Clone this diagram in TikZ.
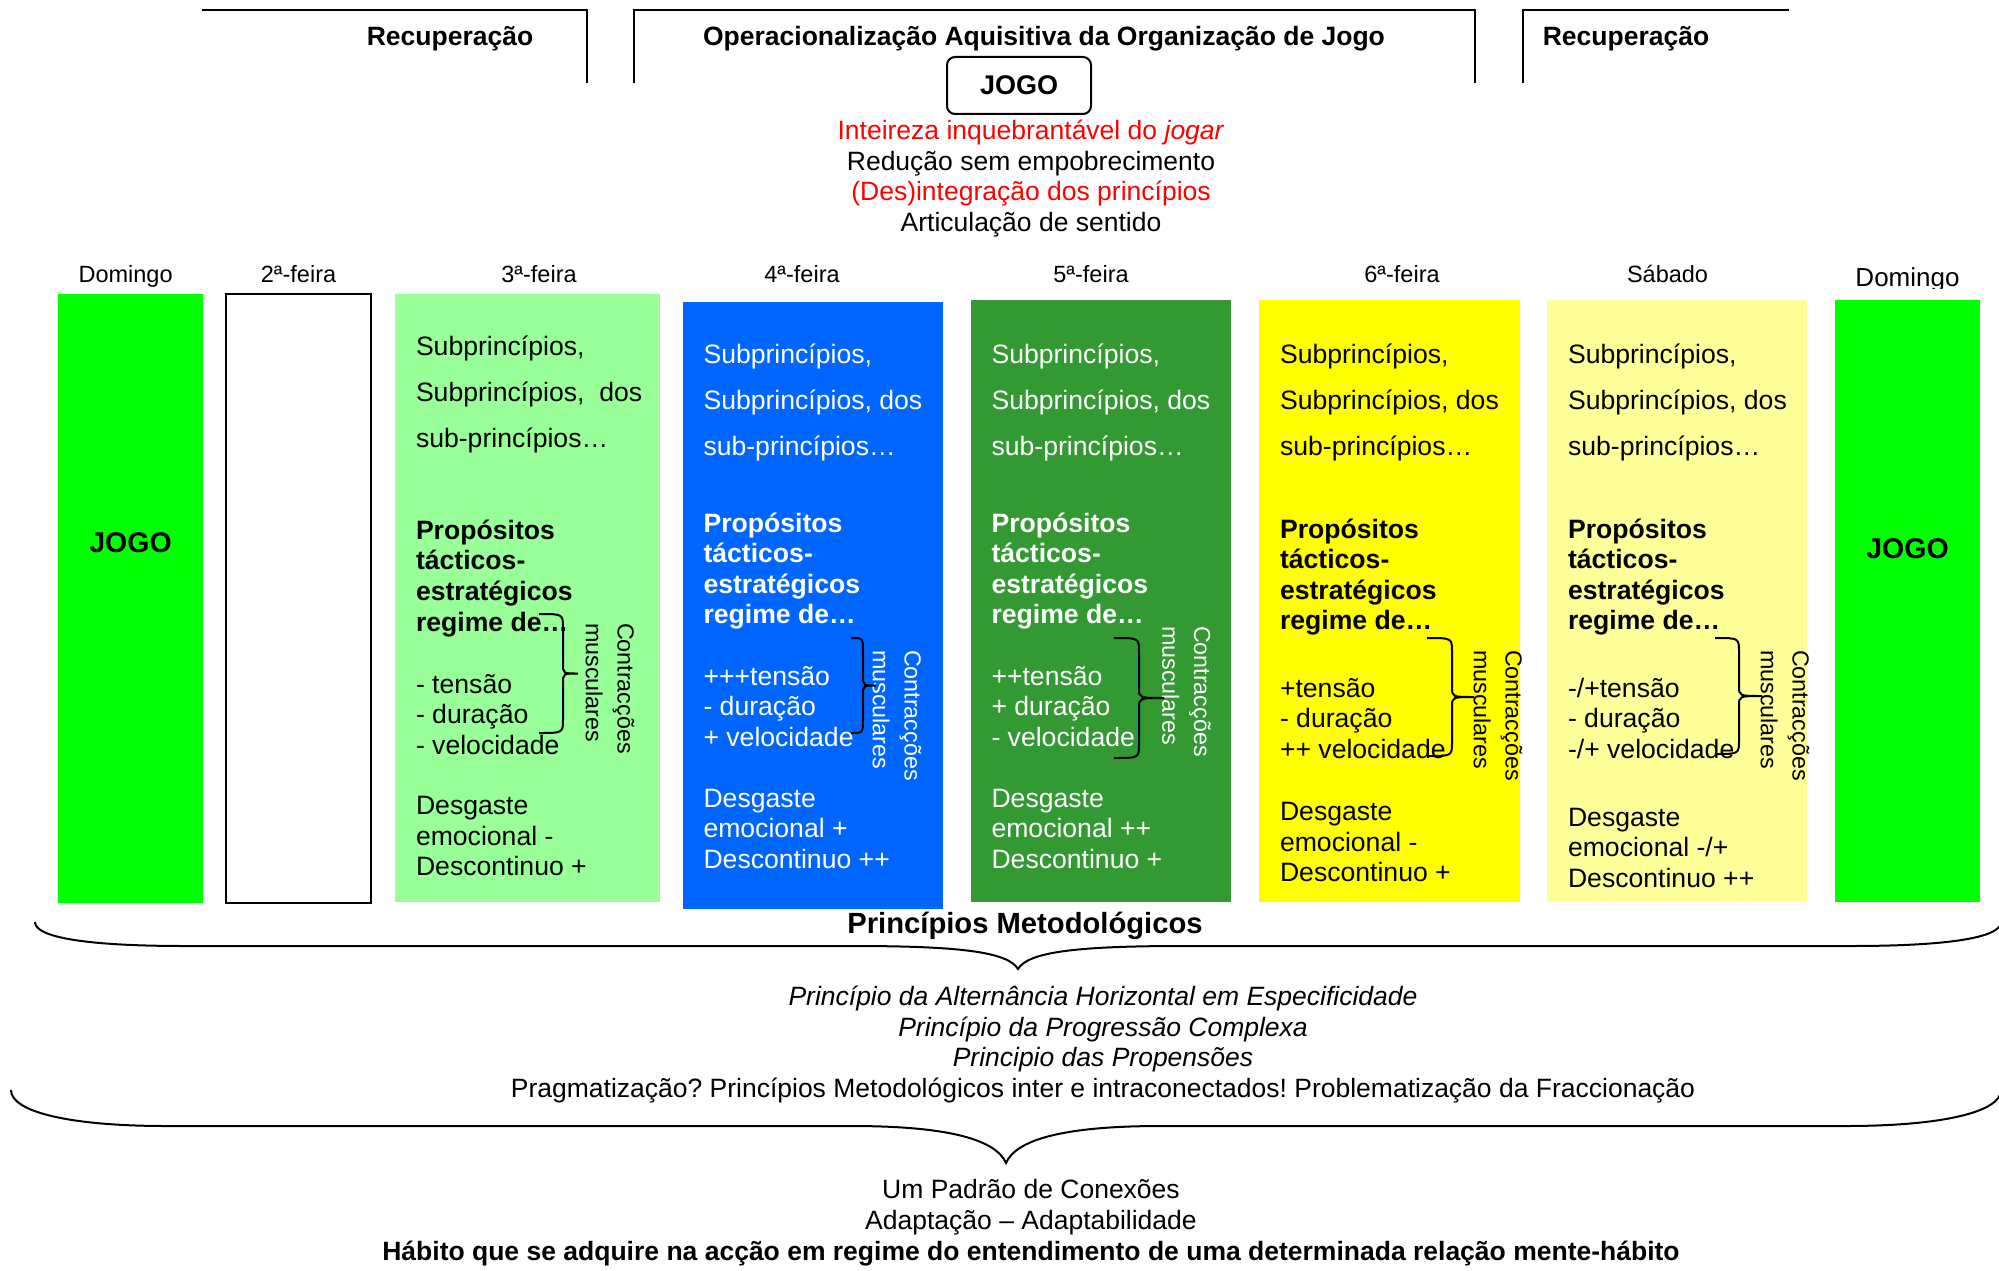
\documentclass[tikz,border=0pt]{standalone}
\usepackage{fontspec}
\setmainfont{Liberation Sans}
\frenchspacing

\definecolor{jogo}{HTML}{00FF00}
\definecolor{terca}{HTML}{99FF99}
\definecolor{quarta}{HTML}{0066FF}
\definecolor{quinta}{HTML}{339933}
\definecolor{sexta}{HTML}{FFFF00}
\definecolor{sabado}{HTML}{FFFF99}

% nos de varias linhas: base = ultima linha
\tikzset{
  head/.style={anchor=base,inner sep=0pt,font=\bfseries\fontsize{26.5}{30}\selectfont},
  day/.style={anchor=base,inner sep=0pt,font=\fontsize{23.5}{28}\selectfont},
  sub/.style={anchor=base west,align=left,inner sep=0pt,font=\fontsize{26.6}{46}\selectfont},
  prop/.style={anchor=base west,align=left,inner sep=0pt,font=\bfseries\fontsize{26.6}{30.6}\selectfont},
  cell/.style={anchor=base west,align=left,inner sep=0pt,font=\fontsize{26.6}{30.5}\selectfont},
  musc/.style={anchor=west,rotate=-90,align=left,inner sep=0pt,font=\fontsize{23.3}{31.7}\selectfont},
  lines/.style={anchor=base,align=center,inner sep=0pt,font=\fontsize{26.5}{30.6}\selectfont}
}

% chave vertical: ponta x, espinha x, bico x, topo y, fundo y
\newcommand{\chave}[5]{%
  \pgfmathsetmacro\ym{(#4+#5)/2}
  \draw (#1,#4) .. controls (#2,#4) .. (#2,#4+14) -- (#2,\ym-10)
    .. controls (#2,\ym) .. (#3,\ym) .. controls (#2,\ym) .. (#2,\ym+10)
    -- (#2,#5-14) .. controls (#2,#5) .. (#1,#5);
}

\begin{document}
\begin{tikzpicture}[x=1pt,y=-1pt,line width=2pt]
  \useasboundingbox (0,0) rectangle (1999,1271);

  % cabecalhos de cima
  \draw (202,10) -- (587,10) -- (587,83);
  \draw (634,83) -- (634,10) -- (1475,10) -- (1475,83);
  \draw (1523,83) -- (1523,10) -- (1789,10);
  \node[head] (rec1) at (450,46) {Recuperação};
  \node[head] (oper) at (1044,46) {Operacionalização Aquisitiva da Organização de Jogo};
  \node[head] (rec2) at (1626,46) {Recuperação};
  \node[draw,rounded corners=8pt,minimum width=144pt,minimum height=57pt,
        font=\bfseries\fontsize{27}{30}\selectfont] (jogo) at (1019,85.5) {JOGO};
  \node[lines] (ideias) at (1031,231.5) {\textcolor{red}{Inteireza inquebrantável do \textit{jogar}}\\
    Redução sem empobrecimento\\
    \textcolor{red}{(Des)integração dos princípios}\\
    Articulação de sentido};

  % dias da semana
  \node[day] (dom1) at (125.6,282) {Domingo};
  \node[day] (seg) at (298.5,282) {2ª-feira};
  \node[day] (ter) at (539,282) {3ª-feira};
  \node[day] (qua) at (802,282) {4ª-feira};
  \node[day] (qui) at (1091,282) {5ª-feira};
  \node[day] (sex) at (1402,282) {6ª-feira};
  \node[day] (sab) at (1667.5,282) {Sábado};
  \begin{scope}
    \clip (1830,250) rectangle (1985,288);
    \node[day,font=\fontsize{26}{30}\selectfont] (dom2) at (1907.5,286) {Domingo};
  \end{scope}

  % colunas
  \fill[jogo] (58,294) rectangle (203,903);
  \draw (226,294) rectangle (371,903);
  \fill[terca] (395,294) rectangle (660,902);
  \fill[quarta] (683,302) rectangle (943,909);
  \fill[quinta] (971,300) rectangle (1231,902);
  \fill[sexta] (1259,300) rectangle (1520,902);
  \fill[sabado] (1547,300) rectangle (1807,902);
  \fill[jogo] (1835,300) rectangle (1980,902);

  \node[head,anchor=center,font=\bfseries\fontsize{28.5}{30}\selectfont] (jogo1) at (130.5,543) {JOGO};
  \node[head,anchor=center,font=\bfseries\fontsize{28.5}{30}\selectfont] (jogo2) at (1907.5,549) {JOGO};

  % 3a-feira
  \node[sub] (t3sub) at (415,447) {Subprincípios,\\Subprincípios,\ \ dos\\sub-princípios…};
  \node[prop] (t3prop) at (415,631) {Propósitos\\tácticos-\\estratégicos\\regime de…};
  \node[cell] (t3reg) at (415,754) {- tensão\\- duração\\- velocidade};
  \node[cell] (t3desg) at (415,875.5) {Desgaste\\emocional -\\Descontinuo +};
  \chave{539}{563}{578}{614}{733}
  \node[musc] (t3musc) at (610,622) {Contracções\\musculares};

  % 4a-feira
  \begin{scope}[white]
    \node[sub] (t4sub) at (702.5,455.5) {Subprincípios,\\Subprincípios, dos\\sub-princípios…};
    \node[prop] (t4prop) at (702.5,623.8) {Propósitos\\tácticos-\\estratégicos\\regime de…};
    \node[cell] (t4reg) at (702.5,746) {+++tensão\\- duração\\+ velocidade};
    \node[cell] (t4desg) at (702.5,868) {Desgaste\\emocional +\\Descontinuo ++};
    \node[musc] (t4musc) at (897,649) {Contracções\\musculares};
  \end{scope}
  \chave{851}{863}{876}{638}{733}

  % 5a-feira
  \begin{scope}[white]
    \node[sub] (t5sub) at (990.5,455.5) {Subprincípios,\\Subprincípios, dos\\sub-princípios…};
    \node[prop] (t5prop) at (990.5,623.8) {Propósitos\\tácticos-\\estratégicos\\regime de…};
    \node[cell] (t5reg) at (990.5,746) {++tensão\\+ duração\\- velocidade};
    \node[cell] (t5desg) at (990.5,868) {Desgaste\\emocional ++\\Descontinuo +};
    \node[musc] (t5musc) at (1186.5,625) {Contracções\\musculares};
  \end{scope}
  \chave{1114}{1139}{1164}{638}{758}

  % 6a-feira
  \node[sub] (t6sub) at (1279,455.5) {Subprincípios,\\Subprincípios, dos\\sub-princípios…};
  \node[prop] (t6prop) at (1279,629.8) {Propósitos\\tácticos-\\estratégicos\\regime de…};
  \node[cell] (t6reg) at (1279,758) {+tensão\\- duração\\++ velocidade};
  \node[cell] (t6desg) at (1279,881.6) {Desgaste\\emocional -\\Descontinuo +};
  \chave{1427}{1452}{1474}{638}{756}
  \node[musc] (t6musc) at (1498,649) {Contracções\\musculares};

  % sabado
  \node[sub] (t7sub) at (1567,455.5) {Subprincípios,\\Subprincípios, dos\\sub-princípios…};
  \node[prop] (t7prop) at (1567,629.8) {Propósitos\\tácticos-\\estratégicos\\regime de…};
  \node[cell] (t7reg) at (1567,758) {-/+tensão\\- duração\\-/+ velocidade};
  \node[cell] (t7desg) at (1567,887) {Desgaste\\emocional -/+\\Descontinuo ++};
  \chave{1715}{1739}{1762}{638}{754}
  \node[musc] (t7musc) at (1785,649) {Contracções\\musculares};

  % principios metodologicos
  \node[head,font=\bfseries\fontsize{29.2}{32}\selectfont] (metod) at (1025,933) {Princípios Metodológicos};
  \draw (35,922) .. controls (35,938) and (90,946) .. (185,946) -- (853,946)
    .. controls (960,946) and (1008,952) .. (1018,969)
    .. controls (1028,952) and (1076,946) .. (1183,946) -- (1851,946)
    .. controls (1946,946) and (2001,938) .. (2001,922);
  \node[lines] (princ) at (1103,1097.5) {\textit{Princípio da Alternância Horizontal em Especificidade}\\
    \textit{Princípio da Progressão Complexa}\\
    \textit{Principio das Propensões}\\
    Pragmatização? Princípios Metodológicos inter e intraconectados! Problematização da Fraccionação};
  \draw (11,1090) .. controls (11,1112) and (70,1126) .. (166,1126) -- (851,1126)
    .. controls (950,1126) and (996,1140) .. (1006,1163)
    .. controls (1016,1140) and (1062,1126) .. (1161,1126) -- (1846,1126)
    .. controls (1942,1126) and (2001,1112) .. (2001,1090);
  \node[lines,font=\fontsize{26.5}{31}\selectfont] (padrao) at (1031,1260) {Um Padrão de Conexões\\
    Adaptação – Adaptabilidade\\
    \textbf{Hábito que se adquire na acção em regime do entendimento de uma determinada relação mente-hábito}};
\end{tikzpicture}
\end{document}
